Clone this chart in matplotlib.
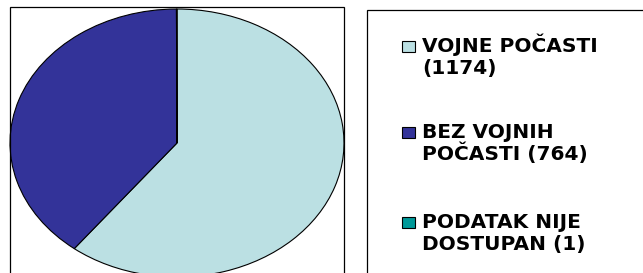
import matplotlib
matplotlib.use("Agg")
import matplotlib.pyplot as plt
from matplotlib.patches import Rectangle

# data
labels = [["VOJNE POČASTI", "(1174)"],
          ["BEZ VOJNIH", "POČASTI (764)"],
          ["PODATAK NIJE", "DOSTUPAN (1)"]]
values = [1174, 764, 1]
colors = ["#BBE0E3", "#333399", "#009999"]

W, H = 643, 273
fig = plt.figure(figsize=(W / 100, H / 100), dpi=100)
fig.patch.set_facecolor("white")

# frame round the pie
fig.add_artist(Rectangle((10 / W, -0.1), 334 / W, 1.1 - 7 / H, transform=fig.transFigure,
                         fill=False, edgecolor="black", lw=0.9))
# frame round the legend
fig.add_artist(Rectangle((367 / W, -0.1), 0.5, 1.1 - 10 / H, transform=fig.transFigure,
                         fill=False, edgecolor="black", lw=0.9))

# pie, stretched into an ellipse
ax = fig.add_axes([10 / W, -4 / H, 334 / W, 268 / H])
ax.pie(values, colors=colors, startangle=90, counterclock=False,
       wedgeprops=dict(edgecolor="black", linewidth=0.8))
ax.set_aspect("auto")
ax.set_xlim(-1, 1)
ax.set_ylim(-1, 1)
ax.axis("off")

# legend drawn by hand, one baseline per line
base = [52, 138, 228]
for lines, col, y in zip(labels, colors, base):
    fig.add_artist(Rectangle((402 / W, 1 - y / H), 13 / W, 11 / H,
                             transform=fig.transFigure, facecolor=col,
                             edgecolor="black", lw=0.8))
    for k, txt in enumerate(lines):
        fig.text(422 / W, 1 - (y + 22 * k) / H, txt, ha="left", va="baseline",
                 fontsize=14.5, fontweight="bold", family="DejaVu Sans")

fig.savefig("out.png", dpi=100)
